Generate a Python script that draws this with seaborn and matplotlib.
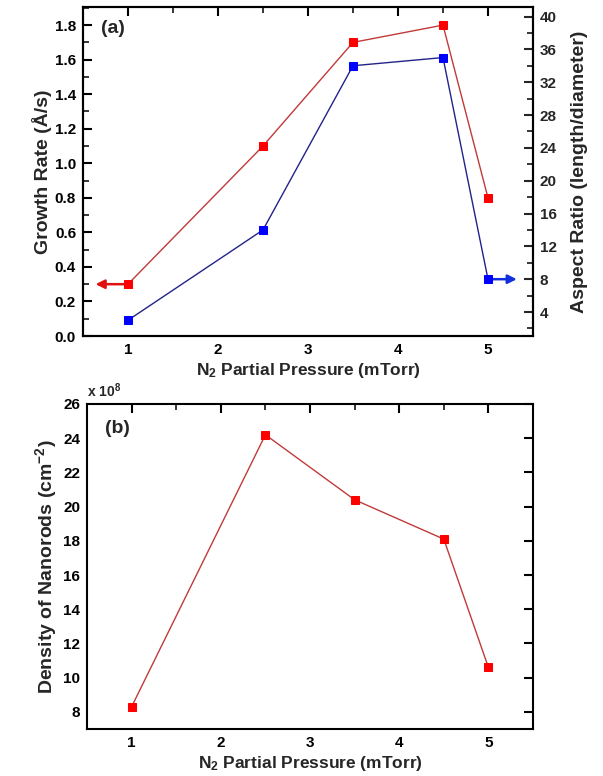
import numpy as np
import pandas as pd
import seaborn as sns
import matplotlib
matplotlib.use("Agg")
import matplotlib.pyplot as plt
from matplotlib.ticker import MultipleLocator

# N2 partial pressure (mTorr)
pressure = [1.0, 2.5, 3.5, 4.5, 5.0]
# Growth rate (Å/s), left axis of panel (a)
growth_rate = [0.30, 1.10, 1.70, 1.80, 0.80]
# Aspect ratio (length/diameter), right axis of panel (a)
aspect_ratio = [3.0, 14.0, 34.0, 35.0, 8.0]
# Density of nanorods (cm^-2), panel (b)
density = [8.3e8, 24.2e8, 20.4e8, 18.1e8, 10.6e8]

x_ticks = [1, 2, 3, 4, 5]

sns.set_style("white")
plt.rcParams.update({
    "font.family": ["Liberation Sans", "DejaVu Sans"],
    "font.weight": "bold",
    "axes.labelweight": "bold",
    "mathtext.fontset": "custom",
    "mathtext.rm": "Liberation Sans:bold",
    "mathtext.bf": "Liberation Sans:bold",
    "mathtext.it": "Liberation Sans:bold",
    "axes.edgecolor": "black",
    "axes.linewidth": 1.5,
})

RED_FACE = "#ff0000"
RED_LINE = "#c03a3a"
BLUE_FACE = "#0000ff"
BLUE_LINE = "#22228a"
TICK_FS = 11
XLABEL_FS = 12.5
YLABEL_FS = 14
MS = 5.2

fig = plt.figure(figsize=(6.03, 7.76), dpi=100)
ax_a = fig.add_axes([0.1376, 0.567, 0.7463, 0.424])
ax_b = fig.add_axes([0.1443, 0.0606, 0.7396, 0.4188])

df = pd.DataFrame({"p": pressure, "g": growth_rate, "ar": aspect_ratio,
                   "d": np.array(density) / 1e8})


def style_ticks(ax, right=True, top=True, right_minor=True):
    ax.tick_params(axis="both", which="major", direction="in", length=6.5,
                   width=1.5, labelsize=TICK_FS, colors="black",
                   top=top, right=right, pad=5)
    ax.tick_params(axis="both", which="minor", direction="in", length=4,
                   width=1.3, top=top, right=right)
    if not right_minor:
        ax.tick_params(axis="y", which="minor", right=False)
    for lab in ax.get_xticklabels() + ax.get_yticklabels():
        lab.set_fontweight("bold")


# ---- panel (a): growth rate and aspect ratio ----
sns.lineplot(data=df, x="p", y="g", ax=ax_a, color=RED_LINE, linewidth=1.0,
             marker="s", markersize=MS, markerfacecolor=RED_FACE,
             markeredgecolor=RED_FACE, zorder=3)
ax_a.set_xlim(0.5, 5.5)
ax_a.set_ylim(0.0, 1.905)
ax_a.xaxis.set_minor_locator(MultipleLocator(0.5))
ax_a.yaxis.set_minor_locator(MultipleLocator(0.1))
g_ticks = np.round(np.arange(0, 1.81, 0.2), 1)
ax_a.set_yticks(g_ticks)
ax_a.set_yticklabels([f"{v:.1f}" for v in g_ticks])
ax_a.set_xticks(x_ticks)
ax_a.set_xticklabels([str(v) for v in x_ticks])
ax_a.set_xlabel(r"N$_{2}$ Partial Pressure (mTorr)", fontsize=XLABEL_FS,
                fontweight="bold", labelpad=3)
ax_a.set_ylabel("Growth Rate (Å/s)", fontsize=YLABEL_FS, fontweight="bold",
                labelpad=2)
style_ticks(ax_a, right=False, top=True)
ax_a.text(0.04, 0.935, "(a)", transform=ax_a.transAxes, fontsize=14,
          fontweight="bold", va="center", ha="left")
ax_a.annotate("", xy=(0.64, growth_rate[0]), xytext=(pressure[0], growth_rate[0]),
              arrowprops=dict(arrowstyle="-|>", color="#e01010", lw=1.8,
                              mutation_scale=13, shrinkA=0, shrinkB=0),
              zorder=2)

ax_r = ax_a.twinx()
sns.lineplot(data=df, x="p", y="ar", ax=ax_r, color=BLUE_LINE, linewidth=1.0,
             marker="s", markersize=MS, markerfacecolor=BLUE_FACE,
             markeredgecolor=BLUE_FACE, zorder=3)
ax_r.set_ylim(1.08, 41.16)
ax_r.yaxis.set_minor_locator(MultipleLocator(2))
ax_r.set_yticks(list(range(4, 41, 4)))
ax_r.set_ylabel("Aspect Ratio (length/diameter)", fontsize=YLABEL_FS,
                fontweight="bold", labelpad=10)
ax_r.tick_params(axis="y", which="major", direction="in", length=6.5,
                 width=1.5, labelsize=TICK_FS, pad=5)
ax_r.tick_params(axis="y", which="minor", direction="in", length=4,
                 width=1.3)
for lab in ax_r.get_yticklabels():
    lab.set_fontweight("bold")
ax_r.annotate("", xy=(5.32, aspect_ratio[-1]), xytext=(pressure[-1], aspect_ratio[-1]),
              arrowprops=dict(arrowstyle="-|>", color="#1030e0", lw=1.8,
                              mutation_scale=13, shrinkA=0, shrinkB=0),
              zorder=2)

# ---- panel (b): nanorod density ----
sns.lineplot(data=df, x="p", y="d", ax=ax_b, color=RED_LINE, linewidth=1.0,
             marker="s", markersize=MS, markerfacecolor=RED_FACE,
             markeredgecolor=RED_FACE, zorder=3)
ax_b.set_xlim(0.5, 5.5)
ax_b.set_ylim(7.0, 26.0)
ax_b.xaxis.set_minor_locator(MultipleLocator(0.5))
ax_b.yaxis.set_minor_locator(MultipleLocator(1))
ax_b.set_yticks(list(range(8, 27, 2)))
ax_b.set_xticks(x_ticks)
ax_b.set_xticklabels([str(v) for v in x_ticks])
ax_b.set_xlabel(r"N$_{2}$ Partial Pressure (mTorr)", fontsize=XLABEL_FS,
                fontweight="bold", labelpad=3)
ax_b.set_ylabel(r"Density of Nanorods (cm$^{-2}$)", fontsize=YLABEL_FS,
                fontweight="bold", labelpad=3)
style_ticks(ax_b, right=True, top=True, right_minor=False)
ax_b.text(0.04, 0.925, "(b)", transform=ax_b.transAxes, fontsize=14,
          fontweight="bold", va="center", ha="left")
ax_b.text(0.0, 1.012, r"x 10$^{8}$", transform=ax_b.transAxes, fontsize=10,
          fontweight="bold", va="bottom", ha="left")

fig.savefig("out.png", dpi=100, facecolor="white")
